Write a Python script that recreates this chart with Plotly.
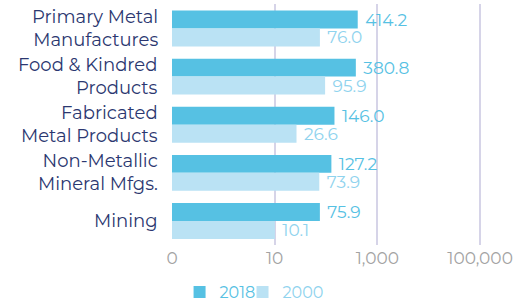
import plotly.graph_objects as go

categories = ["Primary Metal<br>Manufactures", "Food & Kindred<br>Products", "Fabricated<br>Metal Products",
              "Non-Metallic<br>Mineral Mfgs.", "Mining"]
values_2018 = [414.2, 380.8, 146.0, 127.2, 75.9]
values_2000 = [76.0, 95.9, 26.6, 73.9, 10.1]
tick_vals = [0.1, 10, 1000, 100000]
tick_text = ["0", "10", "1,000", "100,000"]

c2018 = "#56C1E3"
c2000 = "#BAE2F4"
t2000 = "#8FD3EE"
navy = "#2B3770"
font = "Montserrat, Noto Sans, Open Sans, sans-serif"

fig = go.Figure()
fig.add_trace(go.Bar(y=categories, x=values_2018, orientation="h", name=f"<span style='color:{c2018}'>2018</span>",
                     marker=dict(color=c2018, line=dict(width=0)),
                     texttemplate="\u00a0%{x:.1f}", textposition="outside", constraintext="none",
                     textfont=dict(color=c2018, size=17, family=font), cliponaxis=False, legend="legend"))
fig.add_trace(go.Bar(y=categories, x=values_2000, orientation="h", name=f"<span style='color:{t2000}'>2000</span>",
                     marker=dict(color=c2000, line=dict(width=0)),
                     texttemplate="\u00a0%{x:.1f}", textposition="outside", constraintext="none",
                     textfont=dict(color=t2000, size=17, family=font), cliponaxis=False, legend="legend2"))

for cat in categories:
    fig.add_annotation(x=0, xref="paper", y=cat, yref="y", text=cat, showarrow=False,
                       xanchor="right", yanchor="middle", align="right", xshift=-12,
                       font=dict(color=navy, size=18, family=font))

leg = dict(orientation="h", y=-0.195, xanchor="left", yanchor="middle",
           font=dict(size=16), itemwidth=30, bgcolor="rgba(0,0,0,0)")

fig.update_layout(
    width=520, height=305,
    margin=dict(l=172, r=4, t=4, b=60, autoexpand=False),
    barmode="group", bargap=0.254, bargroupgap=0,
    plot_bgcolor="white", paper_bgcolor="white",
    font=dict(family=font),
    showlegend=True,
    legend=dict(x=0.022, **leg),
    legend2=dict(x=0.205, **leg),
    xaxis=dict(type="log", range=[-1, 5.7], tickvals=tick_vals, ticktext=tick_text,
               showgrid=True, gridcolor="#D6D4E8", gridwidth=2, zeroline=False,
               showline=False, ticks="", ticklabelstandoff=1,
               tickfont=dict(color="#A3A3A3", size=17), automargin=False),
    yaxis=dict(autorange="reversed", showgrid=False, zeroline=False, showline=False,
               ticks="", showticklabels=False, automargin=False),
)

fig.write_html("out.html", config={"displayModeBar": False},
               post_script="document.body.style.margin='0px';")
